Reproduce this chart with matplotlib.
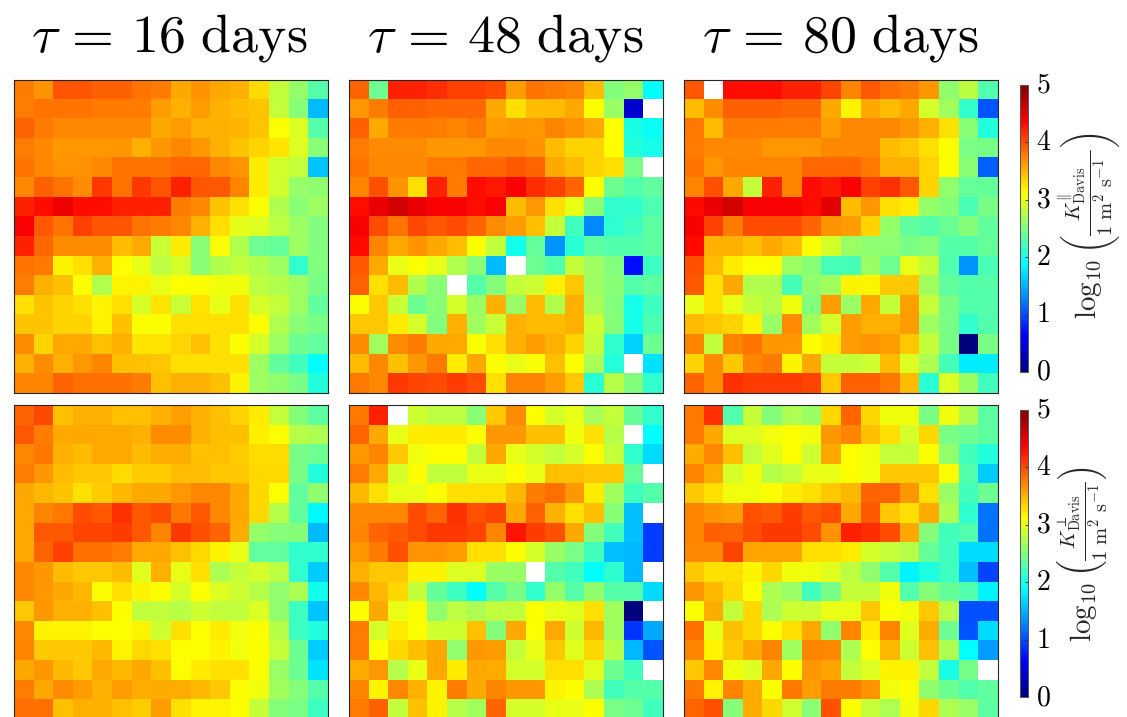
import numpy as np
import matplotlib
matplotlib.use('Agg')
import matplotlib.pyplot as plt
from matplotlib.colors import LinearSegmentedColormap
from matplotlib.transforms import ScaledTranslation

n = float('nan')

titles = ['16', '48', '80']
cbar_ticks = [0, 1, 2, 3, 4, 5]

para_16 = [
    [3.75,3.65,3.95,3.95,3.9,3.9,3.8,3.75,3.55,3.65,3.55,3.5,3.3,2.82,2.6,2.3],
    [3.75,3.8,3.8,3.8,3.75,3.75,3.75,3.6,3.5,3.6,3.5,3.45,3.4,2.85,2.55,1.55],
    [3.9,3.75,3.7,3.7,3.7,3.7,3.7,3.55,3.6,3.5,3.5,3.48,3.4,3.12,2.95,2.3],
    [3.75,3.7,3.62,3.62,3.62,3.62,3.5,3.62,3.7,3.62,3.5,3.4,3.33,3.25,2.95,2.55],
    [3.8,3.7,3.65,3.65,3.7,3.8,3.8,3.8,3.85,3.85,3.7,3.65,3.22,2.9,2.85,1.6],
    [3.7,3.9,3.8,3.68,4.1,3.8,4.1,3.95,4.2,3.95,3.93,3.72,3.22,2.9,2.6,2.58],
    [4.2,4.3,4.45,4.3,4.3,4.2,4.2,4.2,3.75,3.7,3.4,3.28,3.12,2.75,2.55,2.65],
    [4.38,3.93,3.8,4.05,3.95,3.95,3.8,3.75,3.7,3.5,3.28,3.0,2.95,2.8,2.65,2.5],
    [4.2,3.85,3.68,3.68,3.68,3.45,3.55,2.87,3.22,2.55,3.12,2.75,2.42,2.37,2.65,2.5],
    [3.8,3.78,3.18,3.28,3.5,3.12,3.02,2.8,2.92,2.55,2.75,2.82,2.75,2.65,2.12,2.5],
    [3.75,3.5,3.42,3.12,2.75,3.18,3.18,3.02,3.12,3.12,3.05,3.05,2.8,2.75,2.65,2.47],
    [3.28,3.4,3.33,3.28,3.18,3.28,2.92,3.25,2.87,3.25,3.02,3.28,2.92,2.85,2.65,2.35],
    [3.4,3.4,3.33,3.33,3.18,3.42,3.12,3.12,3.28,3.28,3.28,3.28,3.12,2.75,2.55,2.48],
    [3.68,3.33,3.55,3.55,3.42,3.5,3.25,3.25,3.33,3.42,3.28,3.12,2.92,2.65,2.42,2.35],
    [3.5,3.68,3.5,3.62,3.72,3.42,3.42,3.38,3.28,3.28,3.28,3.28,2.65,2.35,2.2,1.88],
    [3.72,3.72,3.88,3.82,3.82,3.82,3.75,3.42,3.5,3.5,3.42,3.18,2.65,2.58,2.47,2.05],
]

para_48 = [
    [3.88,2.42,4.2,4.2,4.15,4.05,4.05,4.0,3.6,3.8,3.75,3.72,3.45,2.5,2.6,1.88],
    [3.63,3.75,3.9,3.9,3.85,3.85,3.85,3.55,3.28,3.45,3.45,3.55,3.12,2.62,0.4,n],
    [3.9,3.55,3.75,3.75,3.75,3.72,3.78,3.6,3.62,3.62,3.72,3.64,3.55,3.12,2.0,1.92],
    [3.75,3.68,3.68,3.68,3.62,3.62,3.62,3.7,3.7,3.64,3.45,3.33,3.33,3.12,2.05,1.98],
    [3.8,3.7,3.7,3.7,3.78,3.78,3.85,3.85,3.93,3.87,3.55,3.45,3.33,3.28,2.47,n],
    [3.72,3.97,3.65,3.28,4.2,3.75,4.3,4.25,4.38,4.15,4.05,3.87,3.12,2.42,2.28,2.35],
    [4.3,4.47,4.58,4.47,4.38,4.38,4.3,4.38,3.45,3.62,3.28,3.02,2.55,2.12,2.12,2.25],
    [4.38,4.0,3.8,4.02,3.93,4.0,3.87,3.68,3.6,3.42,2.85,2.2,1.3,2.1,2.17,2.33],
    [4.32,3.72,3.55,3.64,3.55,3.45,3.12,2.83,1.97,2.37,1.35,2.08,2.33,2.27,2.27,2.33],
    [3.93,3.55,3.02,3.12,3.02,2.75,2.55,1.55,n,2.42,2.28,2.85,2.65,2.5,0.7,2.17],
    [3.9,3.28,3.45,2.75,2.55,n,2.3,2.52,2.85,2.88,3.2,3.38,2.65,2.55,2.28,2.33],
    [3.12,3.38,2.87,2.42,2.55,2.92,2.62,3.5,2.62,3.45,2.75,3.5,2.7,2.5,1.98,2.17],
    [3.38,3.38,3.22,2.92,2.5,3.5,2.67,2.87,3.5,3.45,3.45,3.5,2.88,2.52,1.98,2.25],
    [3.68,2.67,3.68,3.75,3.55,3.55,3.12,3.28,3.5,3.6,3.5,3.33,2.85,2.12,1.65,2.42],
    [3.45,3.7,3.42,3.63,3.78,3.22,3.55,3.12,3.02,3.1,3.42,3.12,2.7,2.05,n,1.72],
    [3.78,3.7,4.1,4.03,4.0,4.08,4.0,3.28,3.72,3.72,3.6,3.38,2.08,2.77,2.5,2.12],
]

para_80 = [
    [3.93,n,4.3,4.3,4.3,4.2,4.2,4.03,3.72,3.93,3.82,3.75,3.62,2.58,2.8,2.28],
    [3.45,3.68,3.9,3.9,3.9,3.85,3.85,3.55,3.18,3.55,3.45,3.55,2.92,2.67,2.12,1.05],
    [3.78,3.45,3.75,3.75,3.75,3.75,3.75,3.6,3.7,3.7,3.7,3.62,3.5,3.28,2.55,2.05],
    [3.75,3.7,3.7,3.7,3.62,3.62,3.62,3.7,3.7,3.7,3.45,3.38,3.28,3.12,2.47,2.47],
    [3.8,3.62,3.72,3.72,3.72,3.72,3.85,3.85,3.85,3.78,3.5,3.5,3.33,3.12,2.55,1.1],
    [3.72,3.97,3.55,2.85,4.2,3.72,4.3,4.25,4.38,4.05,4.13,3.93,3.33,2.58,2.38,2.38],
    [4.33,4.47,4.58,4.38,4.38,4.38,4.3,4.5,3.45,3.62,3.28,3.22,2.6,2.52,2.23,2.48],
    [4.38,4.05,3.75,4.0,4.0,4.0,3.87,3.65,3.6,3.33,2.6,2.35,2.3,2.4,2.52,2.35],
    [4.32,3.5,3.5,3.43,3.55,3.45,3.12,2.92,2.63,2.57,2.57,2.47,2.52,2.3,2.3,2.38],
    [3.97,3.45,3.22,3.12,3.12,2.65,2.55,2.22,2.22,2.62,2.42,3.02,2.85,2.28,1.35,2.23],
    [3.93,3.28,3.55,2.75,2.75,2.22,2.58,2.67,3.18,3.18,3.38,3.38,2.67,2.35,2.28,2.3],
    [3.02,3.28,3.02,2.85,2.77,3.05,2.5,3.6,2.62,3.55,2.85,3.58,2.85,2.48,2.28,2.3],
    [3.45,3.38,3.33,3.18,2.62,3.68,2.67,2.92,3.6,3.5,3.5,3.6,2.67,2.48,2.12,2.28],
    [3.72,2.82,3.72,3.8,3.63,3.63,3.12,3.22,3.6,3.65,3.6,3.38,2.85,2.48,0.0,2.47],
    [3.33,3.68,3.38,3.72,3.78,3.18,3.55,2.85,2.85,2.88,3.45,2.95,2.72,2.22,1.78,1.78],
    [3.87,3.68,4.13,4.08,4.08,4.08,4.03,3.38,3.9,3.9,3.78,3.45,2.08,2.95,2.62,2.2],
]

perp_16 = [
    [3.87,4.02,3.42,3.5,3.5,3.42,3.42,3.5,3.58,3.5,3.42,3.33,3.22,2.85,2.52,2.33],
    [3.93,3.75,3.55,3.55,3.55,3.55,3.5,3.68,3.68,3.5,3.42,3.42,3.2,3.12,2.77,2.72],
    [3.7,3.78,3.5,3.45,3.55,3.55,3.45,3.52,3.52,3.42,3.42,3.37,3.3,3.3,2.47,2.42],
    [3.75,3.63,3.45,3.38,3.38,3.3,3.37,3.37,3.45,3.45,3.38,3.38,3.32,3.32,2.48,2.05],
    [3.55,3.46,3.4,3.28,3.37,3.46,3.55,3.55,3.63,3.7,3.7,3.55,3.32,3.12,2.35,2.58],
    [3.55,3.72,3.78,4.0,3.93,4.13,3.93,4.0,3.78,3.93,3.7,3.55,3.32,2.77,2.35,1.85],
    [3.55,3.93,3.93,4.03,4.03,4.08,3.93,3.72,4.1,3.97,3.87,3.52,2.6,2.52,2.52,1.55],
    [3.55,3.87,4.05,3.82,3.82,3.75,3.55,3.55,3.42,3.32,3.18,3.02,2.35,2.35,2.12,2.12],
    [3.7,3.63,3.45,3.38,3.38,3.45,2.97,3.5,3.02,3.27,2.72,2.85,2.92,2.8,2.12,1.63],
    [3.7,3.63,3.55,3.46,3.12,3.28,3.18,3.12,2.92,3.12,2.95,2.88,2.77,2.58,2.72,1.97],
    [3.38,3.63,3.5,3.5,3.42,3.12,2.82,2.82,2.78,2.88,2.83,2.83,2.95,2.58,2.17,1.6],
    [3.7,3.18,3.18,3.18,3.12,3.12,3.18,2.88,3.28,3.12,3.22,3.05,3.12,2.77,2.17,2.05],
    [3.72,3.38,3.38,3.38,3.46,3.18,3.32,3.28,3.12,3.12,3.18,3.06,3.12,2.85,2.42,1.63],
    [3.55,3.63,3.46,3.38,3.55,3.46,3.55,3.42,3.12,3.22,3.28,3.28,3.12,2.63,2.42,1.75],
    [3.75,3.55,3.68,3.6,3.5,3.6,3.52,3.52,3.52,3.46,3.38,3.12,3.05,2.67,2.52,2.3],
    [3.82,3.82,3.42,3.5,3.5,3.42,3.37,3.6,3.28,3.18,3.18,3.12,2.85,2.52,2.47,2.17],
]

perp_48 = [
    [3.78,4.2,n,2.88,2.8,2.8,2.55,3.38,3.68,3.12,2.92,3.02,2.7,2.85,2.38,2.12],
    [3.87,3.55,3.02,3.22,3.22,3.22,3.12,3.63,3.63,3.42,3.42,3.05,3.28,2.77,n,1.88],
    [3.63,3.72,3.38,3.05,3.12,3.12,2.85,3.55,3.02,2.92,2.85,2.92,3.12,2.85,2.12,1.7],
    [3.75,3.55,2.92,3.12,2.82,2.82,3.02,3.02,3.12,3.02,3.42,3.42,3.38,3.38,2.38,n],
    [3.46,3.28,3.02,3.02,3.12,3.28,3.28,3.28,3.46,3.75,3.82,3.63,3.22,2.67,2.2,2.3],
    [3.7,3.7,3.7,4.0,3.87,4.13,3.97,4.03,3.55,3.9,3.5,3.28,3.42,2.55,1.58,n],
    [3.72,3.87,3.93,4.0,4.1,4.1,4.03,3.72,4.27,4.07,3.97,3.55,2.52,2.2,1.58,0.92],
    [3.63,3.75,3.97,3.65,3.65,3.6,3.28,3.28,3.12,2.92,2.63,2.48,2.2,1.58,1.53,0.92],
    [3.5,3.38,3.38,3.18,3.18,2.95,2.95,2.62,2.62,n,2.3,2.2,1.88,2.1,1.53,n],
    [3.7,3.46,3.32,2.85,2.38,2.17,1.88,2.3,2.48,2.12,2.6,2.3,2.58,2.3,2.3,1.7],
    [3.12,3.55,3.02,3.12,2.58,2.8,2.72,2.82,2.82,3.12,3.02,2.97,3.28,2.67,0.0,n],
    [3.75,2.92,3.22,3.12,2.88,2.88,3.42,2.52,3.55,3.12,3.55,2.88,3.46,2.67,0.88,1.45],
    [3.75,3.12,3.32,3.42,3.55,2.58,3.63,3.6,2.85,3.02,3.38,2.97,3.32,2.77,1.53,1.05],
    [3.52,3.63,2.77,3.02,3.55,3.22,3.55,3.52,2.92,2.92,3.28,3.28,2.97,2.42,2.2,n],
    [3.72,3.18,3.7,3.5,3.18,3.75,3.55,3.72,3.63,3.63,3.18,3.12,2.72,2.2,2.3,2.3],
    [3.75,3.9,2.82,3.42,3.18,2.77,2.67,3.87,2.92,2.92,3.02,3.02,3.12,2.48,2.42,2.2],
]

perp_80 = [
    [3.78,4.13,2.28,2.85,2.52,2.72,2.62,3.32,3.87,3.32,3.05,3.05,2.47,3.05,2.72,2.33],
    [3.78,3.55,2.95,2.95,3.05,3.12,3.05,3.63,3.72,3.42,3.28,2.92,3.32,2.48,2.42,2.33],
    [3.52,3.7,3.42,2.85,2.97,3.12,2.88,3.55,3.12,3.06,2.85,2.85,3.12,2.58,2.2,2.05],
    [3.72,3.52,2.92,3.05,2.77,2.85,3.02,3.02,3.12,3.05,3.38,3.38,3.38,3.12,2.28,1.63],
    [3.38,3.28,3.05,3.05,3.12,3.22,3.28,3.38,3.46,3.87,3.87,3.63,3.28,2.62,2.2,2.42],
    [3.72,3.65,3.6,3.97,3.93,4.08,3.93,4.0,3.55,3.93,3.38,3.28,3.52,2.72,2.1,1.2],
    [3.72,3.9,3.87,4.0,4.1,4.1,4.0,3.65,4.2,4.15,4.0,3.55,2.52,2.2,2.28,1.2],
    [3.7,3.7,4.03,3.57,3.57,3.57,3.28,3.28,3.22,2.92,2.85,2.77,2.38,2.2,1.7,1.7],
    [3.38,3.28,3.28,3.18,3.32,3.05,3.05,2.97,2.8,2.58,2.28,1.82,2.03,2.17,1.58,0.97],
    [3.63,3.46,3.32,3.12,2.72,2.62,2.2,2.48,2.85,2.85,3.05,2.28,2.52,2.38,2.28,1.83],
    [3.12,3.52,2.85,3.32,2.72,2.88,2.88,3.02,3.02,3.38,3.12,3.05,3.38,2.77,1.03,1.03],
    [3.82,3.02,3.42,3.32,3.12,3.28,3.55,2.58,3.72,3.22,3.72,2.97,3.52,2.42,1.05,1.7],
    [3.72,3.18,3.38,3.55,3.72,2.67,3.72,3.7,2.72,3.12,3.46,2.88,3.42,2.72,1.88,1.4],
    [3.38,3.7,3.05,2.95,3.55,3.12,3.63,3.57,2.85,2.95,3.18,3.18,2.82,2.0,2.45,n],
    [3.78,3.18,3.72,3.52,3.12,3.78,3.6,3.75,3.75,3.65,3.06,3.12,2.58,2.42,2.28,2.35],
    [3.87,3.97,2.52,3.52,3.32,2.88,2.55,3.97,3.12,2.85,2.72,3.05,3.32,2.72,2.62,2.33],
]

plt.rcParams['mathtext.fontset'] = 'cm'

W, H = 1127, 717


def px_axes(fig, left, top, right, bottom):
    # pixel box -> figure fractions, y measured from the top
    return fig.add_axes([left / W, 1 - bottom / H, (right - left) / W, (bottom - top) / H])


jet = LinearSegmentedColormap.from_list('matlab_jet', [
    (0, (0, 0, 0.5)), (1 / 8, (0, 0, 1)), (3 / 8, (0, 1, 1)),
    (5 / 8, (1, 1, 0)), (7 / 8, (1, 0, 0)), (1, (0.5, 0, 0))], N=256)
jet.set_bad('white')

fig = plt.figure(figsize=(W / 100, H / 100), dpi=100)

lefts = [13.5, 349, 684]
rows = [(80, 393), (405, 719)]
panels = [[para_16, para_48, para_80], [perp_16, perp_48, perp_80]]

for r, (top, bottom) in enumerate(rows):
    for c, left in enumerate(lefts):
        ax = px_axes(fig, left, top, left + 314, bottom)
        im = ax.imshow(np.array(panels[r][c]), cmap=jet, vmin=0, vmax=5,
                       interpolation='nearest', aspect='auto')
        ax.set_xticks([])
        ax.set_yticks([])
        for s in ax.spines.values():
            s.set_linewidth(0.8)
            s.set_color('#262626')

for c, t in enumerate(titles):
    fig.text((lefts[c] + 157 - 1) / W, 1 - 51 / H, r'$\tau\,=\,%s\ \mathrm{days}$' % t,
             fontsize=38.8, ha='center', va='baseline', color='black')

# the parallel label gets empty scripts so that its brackets grow taller
para_label = (r'$\log_{10}\left(\frac{K^{\Vert{}^{{}^{\ }}}_{\mathrm{Davis}}}'
              r'{1\ \mathrm{m}^{2}\ \mathrm{s}^{-1}{}_{{}_{{}_{\ }}}}\right)$')
perp_label = (r'$\log_{10}\left(\frac{K^{\perp}_{\mathrm{Davis}}}'
              r'{1\ \mathrm{m}^{2}\ \mathrm{s}^{-1}}\right)$')

cbars = [(84.5, 372, para_label, 1090, 226), (410, 697, perp_label, 1082, 554)]
for top, bottom, label, lx, ly in cbars:
    cax = px_axes(fig, 1020, top, 1028, bottom)
    cb = fig.colorbar(im, cax=cax)
    cb.set_ticks(cbar_ticks)
    cb.set_ticklabels([r'$%d$' % v for v in cbar_ticks])
    cax.tick_params(direction='in', length=2, width=0.6, labelsize=20, pad=6, color='#262626')
    up = ScaledTranslation(0, 3 / 100, fig.dpi_scale_trans)
    for lab in cax.get_yticklabels():
        lab.set_transform(lab.get_transform() + up)
    cb.outline.set_linewidth(0.7)
    cb.outline.set_edgecolor('#555555')
    fig.text(lx / W, 1 - ly / H, label, rotation=90, fontsize=21,
             ha='center', va='center', color='#262626')

fig.savefig('out.png', dpi=100)
